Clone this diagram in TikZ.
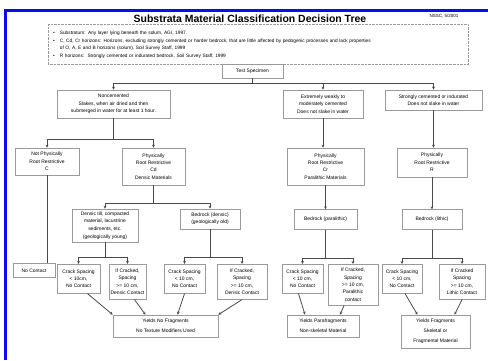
\documentclass[tikz,border=0pt]{standalone}
\usepackage{fontspec}
\setmainfont{Liberation Sans}
\usetikzlibrary{arrows.meta,positioning}
\definecolor{frameblue}{HTML}{0A0AF5}
\definecolor{boxgrey}{HTML}{9A9A9A}
\definecolor{linegrey}{HTML}{4A4A4A}

\begin{document}
\begin{tikzpicture}[x=1bp, y=-1bp,
  every node/.style={font=\fontsize{5}{7.4}\selectfont},
  box/.style={draw=boxgrey, line width=0.6bp, fill=white, align=center,
    inner sep=1.5bp},
  link/.style={draw=linegrey, line width=0.8bp},
  arr/.style={link, -{Stealth[length=3bp, width=2.8bp]}}]
\useasboundingbox (0,0) rectangle (488,360);
\fill[white] (0,0) rectangle (488,360);
\draw[frameblue, line width=3bp] (5.5,360) |- (488,10.5);

\node (title) at (250,19)
  {\fontsize{10.5}{12}\selectfont\bfseries Substrata Material Classification Decision Tree};
\node (nssc) at (444,16) {\fontsize{4.5}{5}\selectfont NSSC, 5/2001};
\node[draw=boxgrey, densely dotted, anchor=north west, text width=410bp,
  minimum height=39bp, inner sep=5bp, align=left,
  font=\fontsize{4.8}{7.6}\selectfont] (defs) at (48,24)
  {\begin{tabular}{@{}l@{\hspace{5bp}}l@{}}
   \textbullet & Substratum: Any layer lying beneath the solum, AGI, 1997.\\
   \textbullet & C, Cd, Cr horizons: Horizons, excluding strongly cemented or harder bedrock, that are little affected by pedogenic processes and lack properties\\
               & of O, A, E and B horizons (solum), Soil Survey Staff, 1999\\
   \textbullet & R horizons:\ \ Strongly cemented or indurated bedrock, Soil Survey Staff, 1999
   \end{tabular}};

% first split
\node[box, minimum width=61bp, minimum height=14bp] (spec) at (252.5,71) {Test Specimen};
\node[box, minimum width=113bp, minimum height=28bp] (noncem) at (113.5,104)
  {Noncemented\\Slakes, when air dried and then\\submerged in water for at least 1 hour.};
\node[box, minimum width=80bp, minimum height=28bp] (weak) at (323,104)
  {Extremely weakly to\\moderately cemented\\Does not slake in water};
\node[box, minimum width=97bp, minimum height=20bp] (strong) at (433.5,100)
  {Strongly cemented or indurated\\Does not slake in water};

% root restriction
\node[box, minimum width=64bp, minimum height=27bp] (notroot) at (47,161.5)
  {Not Physically\\Root Restrictive\\C};
\node[box, minimum width=63bp, minimum height=37bp] (cd) at (153.5,166.5)
  {Physically\\Root Restrictive\\Cd\\Densic Materials};
\node[box, minimum width=77bp, minimum height=37bp] (cr) at (325.5,166.5)
  {Physically\\Root Restrictive\\Cr\\Paralithic Materials};
\node[box, minimum width=70bp, minimum height=29bp] (rhor) at (432,162.5)
  {Physically\\Root Restrictive\\R};

% material
\node[box, minimum width=66bp, minimum height=33bp] (till) at (105,225.5)
  {Densic till, compacted\\material, lacustrine\\sediments, etc.\\[0.8bp](geologically young)};
\node[box, minimum width=60bp, minimum height=20bp] (bdens) at (210,219)
  {Bedrock (densic)\\(geologically old)};
\node[box, minimum width=63bp, minimum height=20bp, below=24bp of cr] (bpara)
  {Bedrock (paralithic)};
\node[box, minimum width=60bp, minimum height=20bp, below=32bp of rhor] (blith)
  {Bedrock (lithic)};

% contacts
\node[box, anchor=north, minimum width=42bp, minimum height=14bp] (nocon) at (34,263)
  {No Contact};
\node[box, anchor=north, minimum width=43bp, minimum height=29bp] (crack1) at (78.5,264)
  {Crack Spacing\\< 10cm,\\No Contact};
\node[box, anchor=north, minimum width=37bp, minimum height=35bp] (ifc1) at (127.5,264)
  {If Cracked,\\Spacing\\>= 10 cm,\\Densic Contact};
\node[box, anchor=north, minimum width=41bp, minimum height=29bp] (crack2) at (184.5,264)
  {Crack Spacing\\< 10 cm,\\No Contact};
\node[box, anchor=north, minimum width=50bp, minimum height=35bp] (ifc2) at (242,264)
  {If Cracked,\\Spacing\\>= 10 cm,\\Densic Contact};
\node[box, anchor=north, minimum width=41bp, minimum height=29bp] (crack3) at (302.5,264)
  {Crack Spacing\\< 10 cm,\\No Contact};
\node[box, anchor=north, minimum width=50bp, minimum height=41bp] (ifc3) at (353,264)
  {If Cracked,\\Spacing\\>= 10 cm,\\Paralithic\\contact};
\node[box, anchor=north, minimum width=40bp, minimum height=29bp] (crack4) at (402,264)
  {Crack Spacing\\< 10 cm,\\No Contact};
\node[box, anchor=north, minimum width=46bp, minimum height=35bp] (ifc4) at (462,264)
  {If Cracked\\Spacing\\>= 10 cm,\\Lithic Contact};

% results
\node[box, minimum width=105bp, minimum height=22bp] (yno) at (165.5,326)
  {Yields No Fragments\\[2.5bp]No Texture Modifiers Used};
\node[box, minimum width=72bp, minimum height=22bp] (ypara) at (323,326)
  {Yields Parafragments\\[2.5bp]Non-skeletal Material};
\node[box, minimum width=69bp, minimum height=33bp] (yfrag) at (435.5,331.5)
  {Yields Fragments\\[2.5bp]Skeletal or\\[2.5bp]Fragmental Material};

% connectors
\draw[link] (spec.south) -- ++(0,5) coordinate (j0);
\draw[arr] (j0) -| (noncem.north);
\draw[arr] (j0) -| (weak.north);
\draw[arr] (j0) -| (strong.north);
\draw[link] (noncem.south) -- ++(0,21) coordinate (j1);
\draw[arr] (j1) -| (notroot.north);
\draw[arr] (j1) -| (cd.north);
\draw[arr] (weak) -- (weak |- cr.north);
\draw[arr] (strong) -- (strong |- rhor.north);
\draw[link] (cd.south) -- ++(0,18) coordinate (j2);
\draw[arr] (j2) -| (till.north);
\draw[arr] (j2) -| (bdens.north);
\draw[arr] (cr) -- (bpara);
\draw[arr] (rhor) -- (blith);
\draw[link] (notroot) -- (notroot |- nocon.north);
\draw[link] (till.south) -- ++(0,15) coordinate (j3);
\draw[arr] (j3) -| (crack1.north);
\draw[arr] (j3) -| (ifc1.north);
\draw[link] (bdens.south) -- ++(0,28) coordinate (j4);
\draw[arr] (j4) -| (crack2.north);
\draw[arr] (j4) -| (ifc2.north);
\draw[link] (bpara.south) -- ++(0,28) coordinate (j5);
\draw[arr] (j5) -| (crack3.north);
\draw[arr] (j5) -| (ifc3.north);
\draw[link] (blith.south) -- ++(0,28) coordinate (j6);
\draw[arr] (j6) -| (crack4.north);
\draw[arr] (j6) -| (ifc4.north);

\draw[arr] ([xshift=9bp]crack1.south) -- (yno.north west);
\draw[arr] ([xshift=7bp]ifc1.south) -- ([xshift=-20bp]yno.north);
\draw[arr] (crack2.south) -- ([xshift=12bp]yno.north);
\draw[arr] (ifc2.south) -- (yno.north east);
\draw[arr] ([xshift=-4bp]crack3.south) -- ([xshift=-18bp]ypara.north);
\draw[arr] ([xshift=-9bp]ifc3.south) -- ([xshift=17bp]ypara.north);
\draw[arr] ([xshift=3bp]crack4.south) -- ([xshift=-18bp]yfrag.north);
\draw[arr] (ifc4.south) -- ([xshift=19bp]yfrag.north);
\end{tikzpicture}
\end{document}
